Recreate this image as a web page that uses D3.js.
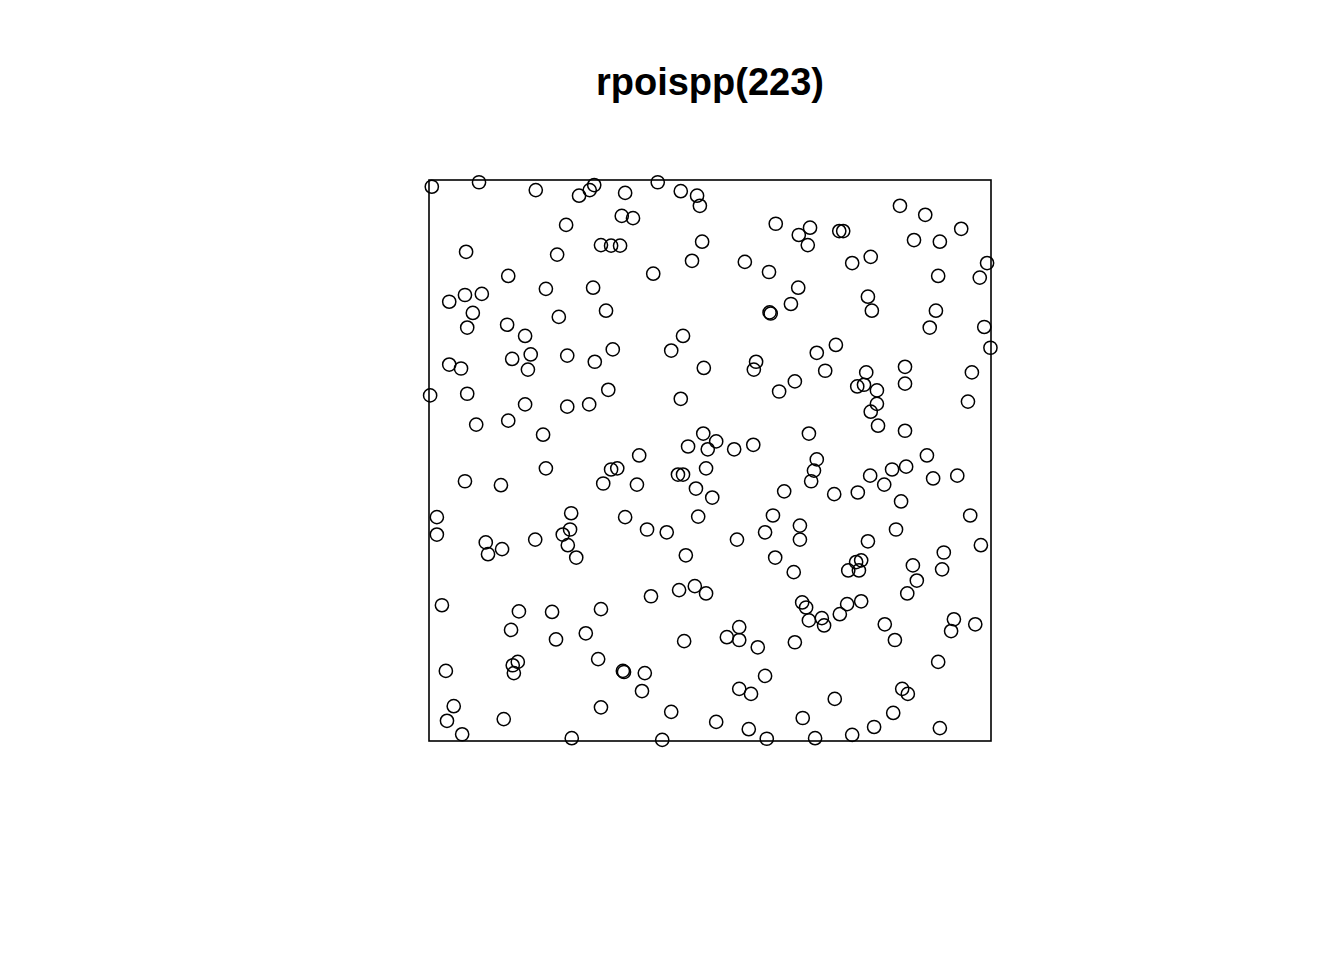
<!DOCTYPE html>
<html><head><meta charset="utf-8">
<script src="https://cdn.jsdelivr.net/npm/d3@7"></script>
<style>html,body{margin:0;padding:0;background:#fff;}</style>
</head><body>
<script>
const title = "rpoispp(223)";
const windowX = [0, 1];
const windowY = [0, 1];
const xs = [0.005,0.089,0.190,0.267,0.286,0.294,0.349,0.407,0.448,0.477,0.482,0.343,0.363,0.244,0.306,0.324,0.340,0.066,0.228,0.617,
0.658,0.678,0.674,0.730,0.737,0.486,0.468,0.562,0.838,0.883,0.947,0.863,0.909,0.753,0.786,0.993,0.605,0.399,0.657,0.644,
0.606,0.608,0.452,0.431,0.582,0.578,0.489,0.141,0.208,0.292,0.064,0.094,0.036,0.078,0.068,0.315,0.231,0.139,0.171,0.327,
0.148,0.181,0.246,0.295,0.036,0.057,0.176,0.980,0.906,0.781,0.788,0.902,0.891,0.988,0.999,0.724,0.690,0.705,0.778,0.847,
0.966,0.002,0.068,0.171,0.246,0.285,0.319,0.084,0.141,0.203,0.208,0.064,0.128,0.310,0.324,0.335,0.651,0.623,0.448,0.488,
0.511,0.461,0.496,0.543,0.577,0.374,0.443,0.452,0.493,0.370,0.475,0.504,0.632,0.676,0.762,0.774,0.797,0.797,0.786,0.799,
0.847,0.959,0.847,0.886,0.690,0.685,0.680,0.721,0.763,0.785,0.824,0.849,0.810,0.897,0.940,0.840,0.963,0.831,0.781,0.982,
0.916,0.014,0.014,0.101,0.130,0.105,0.189,0.253,0.251,0.238,0.247,0.262,0.349,0.388,0.423,0.479,0.548,0.612,0.598,0.660,
0.660,0.457,0.616,0.649,0.760,0.769,0.765,0.746,0.861,0.913,0.868,0.851,0.023,0.160,0.219,0.306,0.146,0.226,0.279,0.395,
0.445,0.473,0.493,0.664,0.671,0.676,0.699,0.703,0.731,0.744,0.769,0.811,0.829,0.934,0.929,0.972,0.552,0.530,0.552,0.585,
0.651,0.454,0.301,0.030,0.149,0.158,0.151,0.345,0.347,0.384,0.379,0.598,0.552,0.573,0.906,0.842,0.852,0.044,0.032,0.059,
0.133,0.306,0.254,0.431,0.511,0.569,0.415,0.601,0.665,0.722,0.826,0.792,0.753,0.687,0.909];
const ys = [0.988,0.996,0.982,0.972,0.982,0.991,0.977,0.996,0.980,0.972,0.954,0.936,0.932,0.920,0.884,0.883,0.883,0.872,0.867,0.922,
0.902,0.915,0.884,0.909,0.909,0.890,0.856,0.854,0.954,0.938,0.913,0.893,0.890,0.852,0.863,0.852,0.836,0.833,0.808,0.779,
0.764,0.762,0.722,0.696,0.676,0.662,0.665,0.829,0.806,0.808,0.795,0.797,0.783,0.763,0.737,0.767,0.756,0.742,0.722,0.698,
0.681,0.689,0.687,0.676,0.671,0.664,0.662,0.826,0.829,0.792,0.767,0.767,0.737,0.738,0.701,0.706,0.692,0.660,0.657,0.667,
0.657,0.616,0.619,0.600,0.596,0.600,0.626,0.564,0.571,0.546,0.486,0.463,0.456,0.459,0.484,0.486,0.641,0.623,0.610,0.548,
0.534,0.525,0.520,0.520,0.528,0.509,0.475,0.475,0.486,0.457,0.450,0.434,0.445,0.548,0.632,0.635,0.625,0.601,0.587,0.562,
0.637,0.605,0.553,0.509,0.502,0.482,0.463,0.440,0.443,0.473,0.484,0.489,0.457,0.468,0.473,0.427,0.402,0.377,0.356,0.349,
0.336,0.399,0.368,0.354,0.342,0.333,0.359,0.406,0.377,0.368,0.349,0.327,0.399,0.377,0.372,0.400,0.359,0.402,0.372,0.384,
0.359,0.331,0.327,0.301,0.319,0.322,0.304,0.304,0.313,0.306,0.286,0.263,0.242,0.231,0.230,0.235,0.198,0.181,0.192,0.258,
0.269,0.276,0.263,0.247,0.238,0.215,0.219,0.206,0.226,0.244,0.249,0.208,0.180,0.217,0.196,0.208,0.203,0.185,0.180,0.167,
0.176,0.178,0.146,0.125,0.135,0.141,0.121,0.125,0.123,0.121,0.089,0.116,0.093,0.084,0.141,0.093,0.084,0.062,0.036,0.012,
0.039,0.060,0.005,0.052,0.034,0.021,0.002,0.004,0.041,0.075,0.050,0.025,0.011,0.005,0.023];

const W = 1344, H = 960;
const svg = d3.select("body").append("svg").attr("width", W).attr("height", H)
  .style("font-family", "'Liberation Sans', Arial, sans-serif");

const x = d3.scaleLinear().domain(windowX).range([429, 991]);
const y = d3.scaleLinear().domain(windowY).range([741, 180]);

svg.append("text").attr("x", 710).attr("y", 95).attr("text-anchor", "middle")
  .attr("font-weight", "bold").attr("font-size", 38).attr("fill", "#000").text(title);

svg.append("rect").attr("x", x(windowX[0])).attr("y", y(windowY[1]))
  .attr("width", x(windowX[1]) - x(windowX[0])).attr("height", y(windowY[0]) - y(windowY[1]))
  .attr("fill", "none").attr("stroke", "#000").attr("stroke-width", 1.6);

const pts = xs.map((v, i) => ({x: v, y: ys[i]}));
svg.append("g").selectAll("circle").data(pts).join("circle")
  .attr("cx", d => x(d.x)).attr("cy", d => y(d.y)).attr("r", 6.6)
  .attr("fill", "none").attr("stroke", "#000").attr("stroke-width", 1.5);
</script>
</body></html>
